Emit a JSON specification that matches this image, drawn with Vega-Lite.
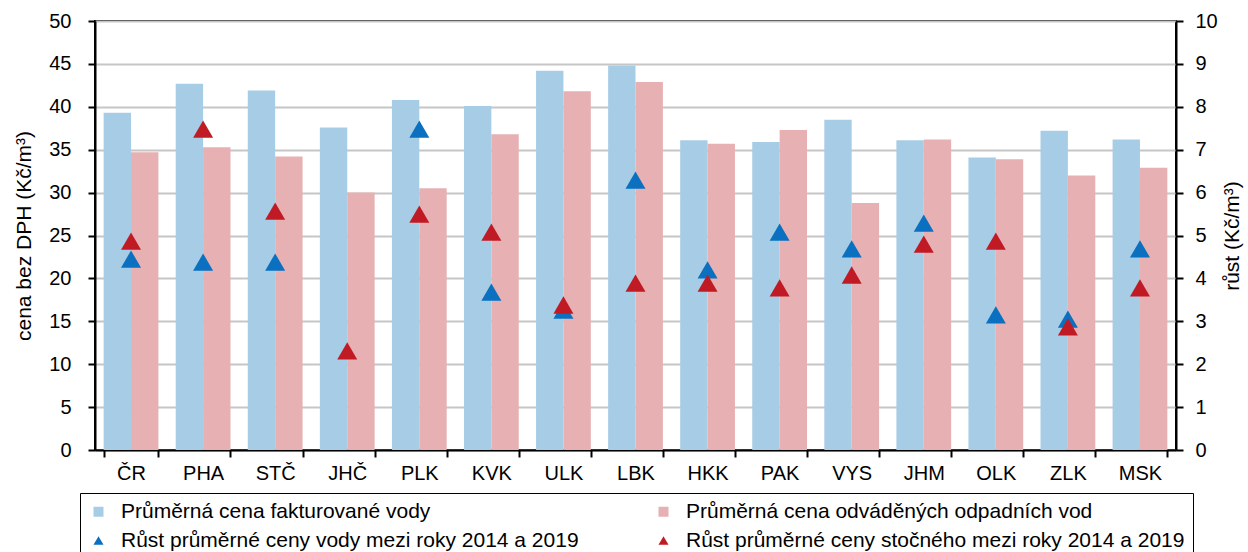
{
  "$schema": "https://vega.github.io/schema/vega-lite/v6.json",
  "width": 1081,
  "height": 429,
  "autosize": {"type": "none"},
  "padding": {"left": 95, "top": 21, "right": 72, "bottom": 102},
  "config": {
    "font": "Liberation Sans",
    "view": {"stroke": "black", "strokeWidth": 2},
    "axis": {
      "domainColor": "black", "domainWidth": 2,
      "tickColor": "black", "tickWidth": 2, "tickSize": 7,
      "labelColor": "black", "titleColor": "black",
      "labelFontSize": 20, "titleFontSize": 21, "titleFontWeight": "normal"
    }
  },
  "data": {
    "values": [
      {"kraj": "ČR", "voda": 39.3, "stoc": 34.7, "rv": 4.45, "rs": 4.87},
      {"kraj": "PHA", "voda": 42.7, "stoc": 35.3, "rv": 4.38, "rs": 7.48},
      {"kraj": "STČ", "voda": 41.9, "stoc": 34.2, "rv": 4.38, "rs": 5.57},
      {"kraj": "JHČ", "voda": 37.6, "stoc": 30.0, "rv": null, "rs": 2.31},
      {"kraj": "PLK", "voda": 40.8, "stoc": 30.5, "rv": 7.48, "rs": 5.5},
      {"kraj": "KVK", "voda": 40.1, "stoc": 36.8, "rv": 3.68, "rs": 5.08},
      {"kraj": "ULK", "voda": 44.2, "stoc": 41.8, "rv": 3.26, "rs": 3.38},
      {"kraj": "LBK", "voda": 44.8, "stoc": 42.9, "rv": 6.29, "rs": 3.89},
      {"kraj": "HKK", "voda": 36.1, "stoc": 35.7, "rv": 4.2, "rs": 3.89},
      {"kraj": "PAK", "voda": 35.9, "stoc": 37.3, "rv": 5.08, "rs": 3.78},
      {"kraj": "VYS", "voda": 38.5, "stoc": 28.8, "rv": 4.69, "rs": 4.08},
      {"kraj": "JHM", "voda": 36.1, "stoc": 36.2, "rv": 5.29, "rs": 4.8},
      {"kraj": "OLK", "voda": 34.1, "stoc": 33.9, "rv": 3.15, "rs": 4.87},
      {"kraj": "ZLK", "voda": 37.2, "stoc": 32.0, "rv": 3.05, "rs": 2.87},
      {"kraj": "MSK", "voda": 36.2, "stoc": 32.9, "rv": 4.69, "rs": 3.78}
    ]
  },
  "transform": [{"fold": ["voda", "stoc", "rv", "rs"], "as": ["s", "v"]}],
  "encoding": {
    "x": {
      "field": "kraj", "type": "nominal", "sort": null,
      "scale": {"paddingInner": 0.24, "paddingOuter": 0.12},
      "axis": {"title": null, "labelAngle": 0, "tickBand": "extent", "labelPadding": 6, "labelFontSize": 20, "grid": false}
    }
  },
  "layer": [
    {
      "transform": [{"filter": "datum.s == 'voda' || datum.s == 'stoc'"}],
      "mark": {"type": "bar"},
      "encoding": {
        "y": {
          "field": "v", "type": "quantitative",
          "scale": {"domain": [0, 50]},
          "axis": {"title": "cena bez DPH (Kč/m³)", "tickCount": 10, "grid": true, "gridColor": "#c6c6c6", "gridWidth": 2, "labelPadding": 17, "titlePadding": 14}
        },
        "xOffset": {"field": "s", "type": "nominal", "sort": ["voda", "stoc"], "scale": {"paddingInner": 0, "paddingOuter": 0}},
        "color": {
          "field": "s", "type": "nominal",
          "scale": {"domain": ["voda", "stoc", "rv", "rs"], "range": ["#a7cde6", "#e7b0b3", "#0a70bf", "#c01b25"]},
          "legend": {
            "orient": "none", "legendX": -15, "legendY": 472,
            "direction": "horizontal",
            "columns": 2, "title": null,
            "strokeColor": "black", "fillColor": "white", "padding": 8,
            "columnPadding": 74, "rowPadding": 7,
            "labelFontSize": 21, "labelColor": "black", "labelLimit": 0, "labelOffset": 12,
            "symbolSize": 100, "symbolStrokeWidth": 0,
            "labelExpr": "datum.value == 'voda' ? 'Průměrná cena fakturované vody' : datum.value == 'stoc' ? 'Průměrná cena odváděných odpadních vod' : datum.value == 'rv' ? 'Růst průměrné ceny vody mezi roky 2014 a 2019' : 'Růst průměrné ceny stočného mezi roky 2014 a 2019'",
            "encode": {"symbols": {"update": {"shape": {"signal": "datum.value == 'voda' || datum.value == 'stoc' ? 'square' : 'triangle-up'"}}}}
          }
        }
      }
    },
    {
      "transform": [{"filter": "datum.s == 'rv' || datum.s == 'rs'"}],
      "mark": {"type": "point", "shape": "triangle-up", "filled": true, "size": 400, "opacity": 1},
      "encoding": {
        "y": {
          "field": "v", "type": "quantitative",
          "scale": {"domain": [0, 10]},
          "axis": {"orient": "right", "title": "růst (Kč/m³)", "titleAngle": 270, "tickCount": 10, "grid": false, "labelPadding": 12, "titlePadding": 25}
        },
        "color": {"field": "s", "type": "nominal"}
      }
    }
  ],
  "resolve": {"scale": {"y": "independent"}}
}
